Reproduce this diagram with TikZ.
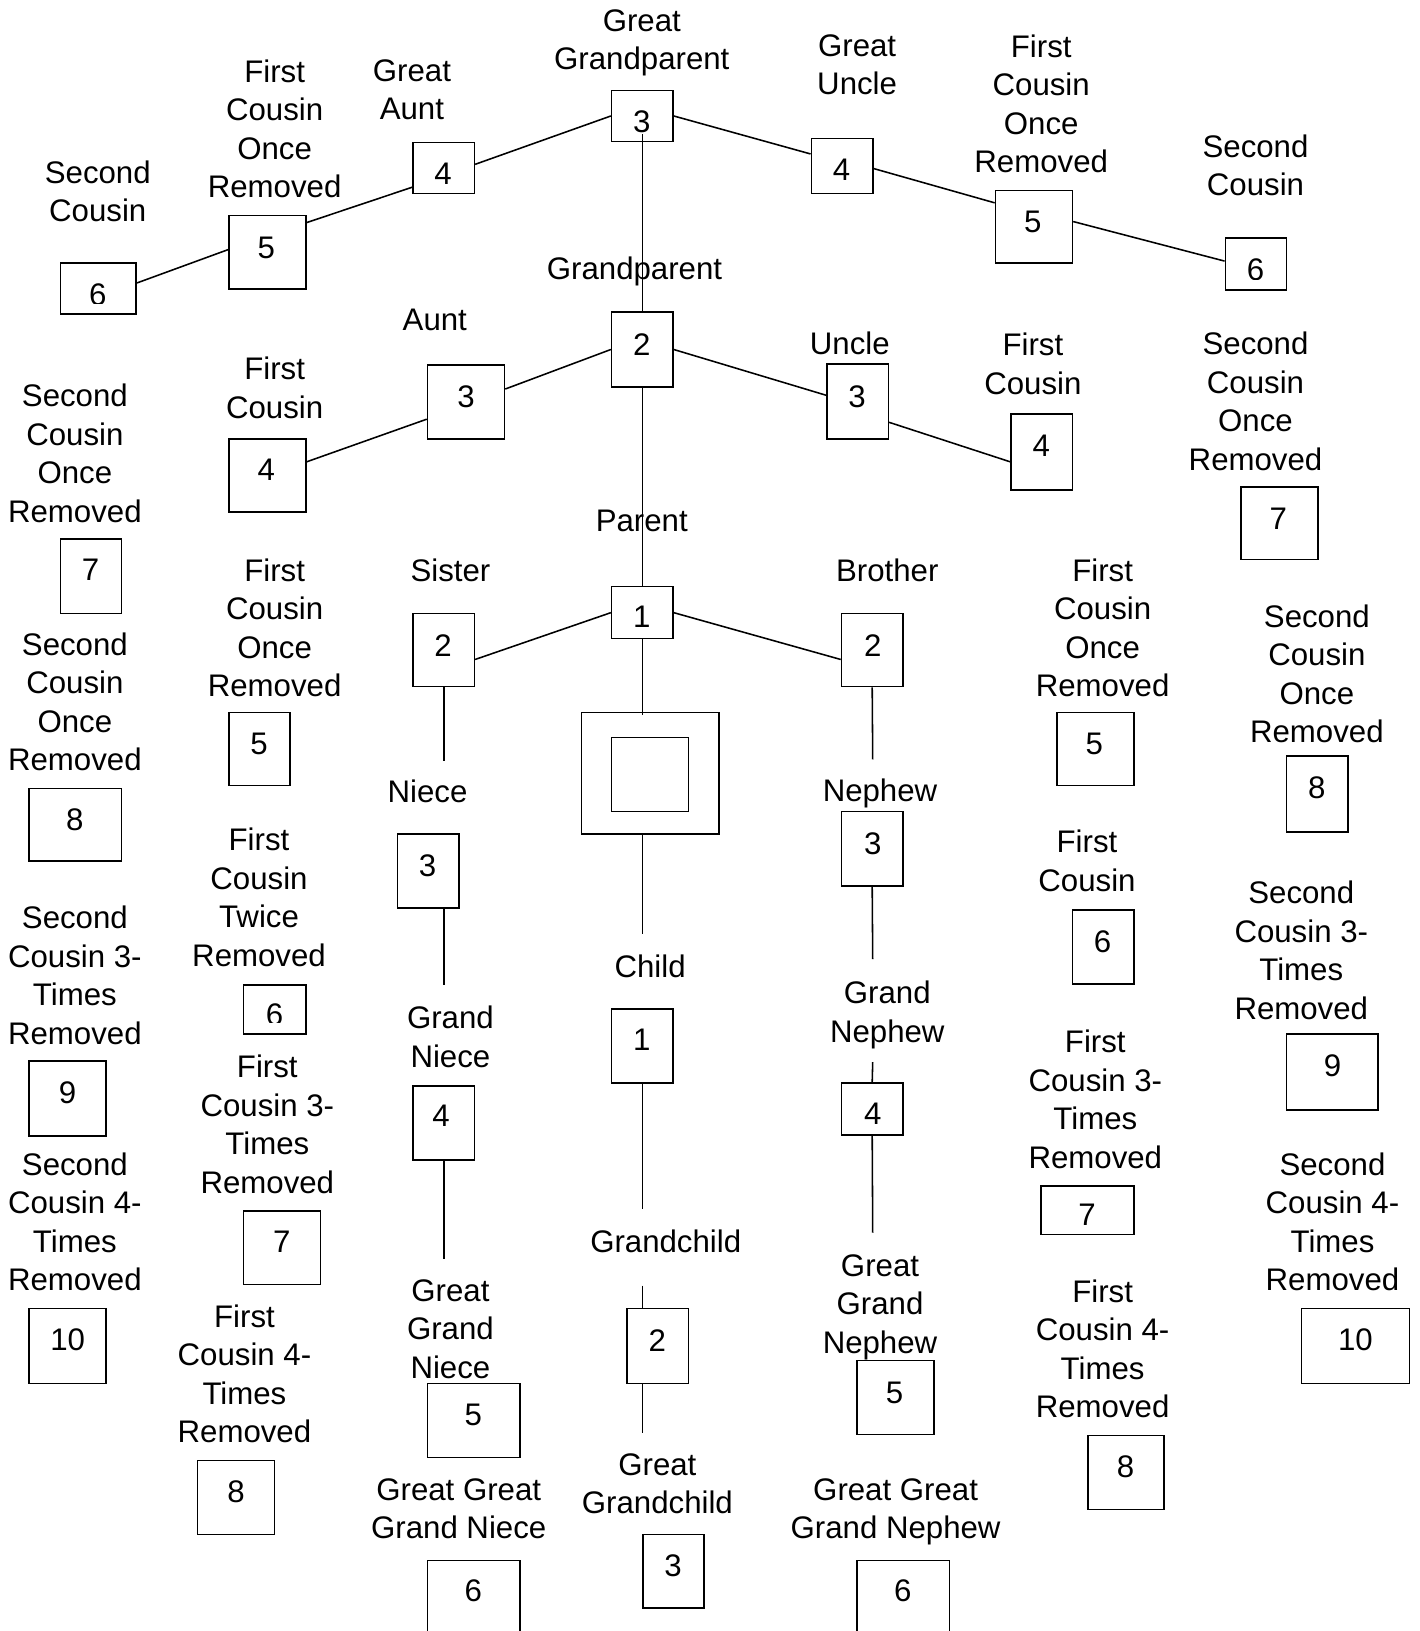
\documentclass[tikz,border=0pt]{standalone}
\usepackage{fontspec}
\setmainfont{Liberation Sans}
\newcommand\fs{\fontsize{30pt}{37pt}\selectfont}
\tikzset{
  bx/.style={draw, fill=white, line width=1.5pt, inner sep=0pt, rectangle},
  numst/.style={inner sep=0pt, text depth=0pt, font=\fs},
  lbl/.style={align=center, inner sep=0pt, anchor=north, yshift=11pt, font=\fs},
  ln/.style={line width=1.5pt}
}
\newcommand\mkbox[5]{\node[bx, minimum width={(#3-#2)*1pt}, minimum height={(#5-#4)*1pt}] (#1) at ({(#2+#3)/2},{(#4+#5)/2}) {};}
\newcommand\mknum[4]{\node[numst] (#1) at (#2,#3) {#4};}
\newcommand\mklbl[4]{\node[lbl] (#1) at (#2,#3) {#4};}
\begin{document}
\begin{tikzpicture}[x=1pt,y=-1pt]
\useasboundingbox (0,0) rectangle (1365,1568);
% ---------- labels ----------
\mklbl{l-ggp}{617}{20}{Great\\Grandparent}
\mklbl{l-gaunt}{396}{68}{Great\\Aunt}
\mklbl{l-fcor1}{264}{68}{First\\Cousin\\Once\\Removed}
\mklbl{l-sc1}{94}{165}{Second\\Cousin}
\mklbl{l-guncle}{824}{44}{Great\\Uncle}
\mklbl{l-fcor2}{1001}{44}{First\\Cousin\\Once\\Removed}
\mklbl{l-sc2}{1207}{140}{Second\\Cousin}
\mklbl{l-gp}{610}{258}{Grandparent}
\mklbl{l-aunt}{418}{308}{Aunt}
\mklbl{l-fc1}{264}{354}{First\\Cousin}
\mklbl{l-uncle}{817}{330}{Uncle}
\mklbl{l-fc2}{993}{331}{First\\Cousin}
\mklbl{l-scor1}{72}{380}{Second\\Cousin\\Once\\Removed}
\mklbl{l-scor2}{1207}{330}{Second\\Cousin\\Once\\Removed}
\mklbl{l-par}{617}{501}{Parent}
\mklbl{l-sister}{433}{548}{Sister}
\mklbl{l-brother}{853}{548}{Brother}
\mklbl{l-fcor3}{264}{548}{First\\Cousin\\Once\\Removed}
\mklbl{l-fcor4}{1060}{548}{First\\Cousin\\Once\\Removed}
\mklbl{l-scor3}{72}{619}{Second\\Cousin\\Once\\Removed}
\mklbl{l-scor4}{1266}{592}{Second\\Cousin\\Once\\Removed}
\mklbl{l-niece}{411}{761}{Niece}
\mklbl{l-nephew}{846}{760}{Nephew}
\mklbl{l-fctr}{249}{807}{First\\Cousin\\Twice\\Removed}
\mklbl{l-fc3}{1045}{809}{First\\Cousin}
\mklbl{l-sc3r1}{72}{882}{Second\\Cousin 3-\\Times\\Removed}
\mklbl{l-sc3r2}{1251}{858}{Second\\Cousin 3-\\Times\\Removed}
\mklbl{l-child}{625}{929}{Child}
\mklbl{l-gniece}{433}{978}{Grand\\Niece}
\mklbl{l-gnephew}{853}{954}{Grand\\Nephew}
\mklbl{l-fc3r1}{257}{1025}{First\\Cousin 3-\\Times\\Removed}
\mklbl{l-fc3r2}{1053}{1001}{First\\Cousin 3-\\Times\\Removed}
\mklbl{l-sc4r1}{72}{1119}{Second\\Cousin 4-\\Times\\Removed}
\mklbl{l-sc4r2}{1281}{1119}{Second\\Cousin 4-\\Times\\Removed}
\mklbl{l-gc}{640}{1193}{Grandchild}
\mklbl{l-ggniece}{433}{1241}{Great\\Grand\\Niece}
\mklbl{l-ggnephew}{846}{1217}{Great\\Grand\\Nephew}
\mklbl{l-fc4r1}{235}{1265}{First\\Cousin 4-\\Times\\Removed}
\mklbl{l-fc4r2}{1060}{1241}{First\\Cousin 4-\\Times\\Removed}
\mklbl{l-ggc}{632}{1408}{Great\\Grandchild}
\mklbl{l-gggniece}{441}{1432}{Great Great\\Grand Niece}
\mklbl{l-gggnephew}{861}{1432}{Great Great\\Grand Nephew}
% ---------- boxes ----------
\mkbox{ggp}{588}{647}{87}{136}
\mkbox{gaunt}{397}{456}{137}{186}
\mkbox{fcor1}{220}{294}{207}{278}
\mkbox{sc1}{58}{131}{253}{302}
\mkbox{guncle}{780}{839}{133}{186}
\mkbox{fcor2}{957}{1031}{183}{253}
\mkbox{sc2}{1178}{1237}{229}{279}
\mkbox{gp}{588}{647}{300}{372}
\mkbox{aunt}{411}{485}{351}{422}
\mkbox{fc1}{220}{294}{422}{492}
\mkbox{uncle}{795}{854}{350}{422}
\mkbox{fc2}{972}{1031}{398}{471}
\mkbox{scor1}{58}{117}{518}{590}
\mkbox{scor2}{1193}{1267}{468}{538}
\mkbox{par}{588}{647}{564}{614}
\mkbox{sister}{397}{456}{590}{660}
\mkbox{brother}{809}{868}{590}{660}
\mkbox{fcor3}{220}{279}{685}{755}
\mkbox{fcor4}{1016}{1090}{685}{755}
\mkbox{scor3}{28}{117}{758}{828}
\mkbox{scor4}{1237}{1296}{727}{800}
\mkbox{self}{559}{691}{685}{802}
\mkbox{selfin}{588}{662}{709}{780}
\mkbox{niece}{382}{441}{802}{873}
\mkbox{nephew}{809}{868}{780}{852}
\mkbox{fctr}{234}{294}{947}{994}
\mkbox{fc3}{1031}{1090}{875}{946}
\mkbox{sc3r1}{28}{102}{1020}{1092}
\mkbox{sc3r2}{1237}{1325}{994}{1067}
\mkbox{child}{588}{647}{970}{1041}
\mkbox{gniece}{397}{456}{1044}{1115}
\mkbox{gnephew}{809}{868}{1041}{1091}
\mkbox{fc3r1}{234}{308}{1164}{1235}
\mkbox{fc3r2}{1001}{1090}{1140}{1187}
\mkbox{sc4r1}{28}{102}{1258}{1330}
\mkbox{sc4r2}{1251}{1355}{1258}{1330}
\mkbox{gc}{603}{662}{1258}{1330}
\mkbox{ggniece}{411}{500}{1330}{1401}
\mkbox{ggnephew}{824}{898}{1308}{1379}
\mkbox{fc4r1}{190}{264}{1404}{1475}
\mkbox{fc4r2}{1046}{1119}{1380}{1451}
\mkbox{ggc}{618}{677}{1475}{1546}
\mkbox{gggniece}{411}{500}{1500}{1571}
\mkbox{gggnephew}{824}{913}{1500}{1571}
% ---------- numbers ----------
\mknum{n-ggp}{617}{117}{3}
\mknum{n-gaunt}{426}{167}{4}
\mknum{n-fcor1}{256}{238}{5}
\begin{scope}
\clip (sc1.north west) rectangle ([yshift=11pt]sc1.south east);
\mknum{n-sc1}{94}{283}{6}
\end{scope}
\mknum{n-guncle}{809}{163}{4}
\mknum{n-fcor2}{993}{213}{5}
\begin{scope}
\clip (sc2.north west) rectangle ([yshift=11pt]sc2.south east);
\mknum{n-sc2}{1207}{259}{6}
\end{scope}
\mknum{n-gp}{617}{331}{2}
\mknum{n-aunt}{448}{381}{3}
\mknum{n-fc1}{256}{452}{4}
\mknum{n-uncle}{824}{381}{3}
\mknum{n-fc2}{1001}{429}{4}
\mknum{n-scor1}{87}{548}{7}
\mknum{n-scor2}{1229}{499}{7}
\mknum{n-par}{617}{593}{1}
\mknum{n-sister}{426}{621}{2}
\mknum{n-brother}{839}{621}{2}
\mknum{n-fcor3}{249}{715}{5}
\mknum{n-fcor4}{1052}{715}{5}
\mknum{n-scor3}{72}{788}{8}
\mknum{n-scor4}{1266}{757}{8}
\mknum{n-niece}{411}{832}{3}
\mknum{n-nephew}{839}{811}{3}
\begin{scope}
\clip (fctr.north west) rectangle ([yshift=12pt]fctr.south east);
\mknum{n-fctr}{264}{975}{6}
\end{scope}
\mknum{n-fc3}{1060}{905}{6}
\mknum{n-sc3r1}{65}{1050}{9}
\mknum{n-sc3r2}{1281}{1024}{9}
\mknum{n-child}{617}{1000}{1}
\mknum{n-gniece}{424}{1073}{4}
\mknum{n-gnephew}{839}{1071}{4}
\mknum{n-fc3r1}{271}{1194}{7}
\mknum{n-fc3r2}{1045}{1168}{7}
\mknum{n-sc4r1}{65}{1288}{10}
\mknum{n-sc4r2}{1303}{1288}{10}
\mknum{n-gc}{632}{1289}{2}
\mknum{n-ggniece}{455}{1360}{5}
\mknum{n-ggnephew}{860}{1339}{5}
\mknum{n-fc4r1}{227}{1434}{8}
\mknum{n-fc4r2}{1082}{1410}{8}
\mknum{n-ggc}{647}{1505}{3}
\mknum{n-gggniece}{455}{1529}{6}
\mknum{n-gggnephew}{868}{1529}{6}
% ---------- free line ends ----------
\coordinate (v0) at (617.5,129);
\coordinate (v1) at (617.5,687);
\coordinate (v2) at (617.5,898);
\coordinate (v3) at (617.5,1162);
\coordinate (v4) at (617.5,1236);
\coordinate (v5) at (617.5,1378);
\coordinate (s0) at (427,732);
\coordinate (s1) at (427,947);
\coordinate (s2) at (427,1210);
\coordinate (b0) at (839,730);
\coordinate (b1) at (839,922);
\coordinate (b2) at (839,1021);
\coordinate (b3) at (839,1185);
% ---------- connectors ----------
\draw[ln] (ggp.west) -- ([yshift=3.5pt]gaunt.east);
\draw[ln] ([yshift=-18.5pt]gaunt.west) -- ([yshift=28.5pt]fcor1.east);
\draw[ln] ([yshift=2.5pt]fcor1.west) -- ([yshift=5.5pt]sc1.east);
\draw[ln] (ggp.east) -- ([yshift=11.5pt]guncle.west);
\draw[ln] ([yshift=-2.5pt]guncle.east) -- ([yshift=23pt]fcor2.west);
\draw[ln] ([yshift=5pt]fcor2.east) -- ([yshift=3pt]sc2.west);
\draw[ln] (v0) -- (gp.north);
\draw[ln] (gp.west) -- ([yshift=12.5pt]aunt.east);
\draw[ln] ([yshift=-16.5pt]aunt.west) -- ([yshift=13pt]fc1.east);
\draw[ln] (gp.east) -- ([yshift=6pt]uncle.west);
\draw[ln] ([yshift=-20pt]uncle.east) -- ([yshift=-9.5pt]fc2.west);
\draw[ln] (gp.south) -- (par.north);
\draw[ln] (par.west) -- ([yshift=-9pt]sister.east);
\draw[ln] (par.east) -- ([yshift=-9pt]brother.west);
\draw[ln] (par.south) -- (v1);
\draw[ln] (v2 |- self.south) -- (v2);
\draw[ln] (child.south) -- (v3);
\draw[ln] (v4) -- (v4 |- gc.north);
\draw[ln] (v4 |- gc.south) -- (v5);
\draw[ln] (s0 |- sister.south) -- (s0);
\draw[ln] (s1 |- niece.south) -- (s1);
\draw[ln] (s2 |- gniece.south) -- (s2);
\draw[ln] (brother.south) -- (b0);
\draw[ln] (nephew.south) -- (b1);
\draw[ln] (b2) -- (gnephew.north);
\draw[ln] (gnephew.south) -- (b3);
\end{tikzpicture}
\end{document}
